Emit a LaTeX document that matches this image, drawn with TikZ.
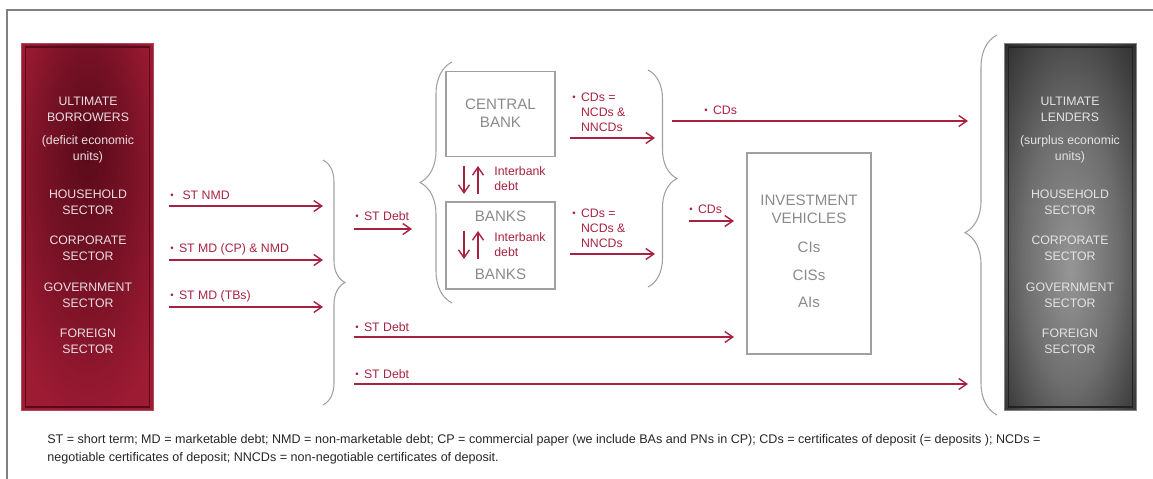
\documentclass[tikz,border=0pt]{standalone}
\usepackage{fontspec}
\setmainfont{Liberation Sans}
\usetikzlibrary{positioning, arrows.meta, decorations.pathreplacing}

\definecolor{borred}{RGB}{158,27,52}
\definecolor{bordark}{RGB}{88,10,26}
\definecolor{lenedge}{RGB}{48,48,48}
\definecolor{lenmid}{RGB}{150,150,150}
\definecolor{flowred}{RGB}{168,34,64}
\definecolor{boxgray}{RGB}{138,138,138}
\definecolor{linegray}{RGB}{160,160,160}
\definecolor{bortext}{RGB}{236,222,225}
\definecolor{lentext}{RGB}{228,228,228}

\pgfdeclareradialshading{borshade}{\pgfpoint{0bp}{12bp}}{color(0bp)=(bordark); color(16bp)=(bordark!55!borred); color(32bp)=(borred); color(50bp)=(borred)}
\pgfdeclareradialshading{lenshade}{\pgfpoint{0bp}{-6bp}}{color(0bp)=(lenmid); color(18bp)=(lenmid!60!lenedge); color(36bp)=(lenedge); color(50bp)=(lenedge)}

\newcommand{\flowbul}{{\fontsize{5.5}{5.5}\selectfont\raisebox{0.2ex}{\textbullet}}}

\begin{document}
\begin{tikzpicture}[
  x=0.02cm, y=-0.02cm,
  font=\fontsize{7}{8.5}\selectfont,
  sector/.style={rectangle, minimum width=2.64cm, minimum height=7.36cm, inner sep=0pt},
  secttext/.style={align=center, inner sep=0pt, font=\fontsize{7}{9.1}\selectfont},
  midbox/.style={rectangle, draw=linegray, line width=0.7pt, inner sep=0pt},
  midtext/.style={align=center, inner sep=0pt, text=boxgray, font=\fontsize{8.6}{10.3}\selectfont},
  flow/.style={draw=flowred, line width=0.8pt, -{Straight Barb[length=1.6mm, width=2.2mm]}},
  lbl/.style={anchor=west, align=left, inner sep=0pt, text=flowred},
  brc/.style={draw=linegray, line width=0.6pt, decorate}
]
  \useasboundingbox (0,0) rectangle (1153,479);
  \draw[gray, line width=0.6pt] (1153,10) -- (7,10) -- (7,479);

  % ultimate borrowers / lenders
  \node[sector, shading=borshade, draw=borred!80!white, line width=0.6pt] (bor) at (87.5,227) {};
  \draw[bordark, line width=0.6pt] ([shift={(0.09cm,-0.09cm)}]bor.north west) rectangle ([shift={(-0.09cm,0.09cm)}]bor.south east);
  \node[sector, shading=lenshade, draw=lenedge!60!white, line width=0.6pt] (len) at (1070.5,227) {};
  \draw[lenedge!70!black, line width=0.6pt] ([shift={(0.09cm,-0.09cm)}]len.north west) rectangle ([shift={(-0.09cm,0.09cm)}]len.south east);

  \foreach \txt/\yy [count=\i] in {{ULTIMATE\\BORROWERS}/109, {(deficit economic\\units)}/149, {HOUSEHOLD\\SECTOR}/202.5, {CORPORATE\\SECTOR}/248.5, {GOVERNMENT\\SECTOR}/295, {FOREIGN\\SECTOR}/341}
    \node[secttext, text=bortext] (bort\i) at (88,\yy) {\txt};
  \foreach \txt/\yy [count=\i] in {{ULTIMATE\\LENDERS}/109, {(surplus economic\\units)}/149, {HOUSEHOLD\\SECTOR}/202.5, {CORPORATE\\SECTOR}/248.5, {GOVERNMENT\\SECTOR}/295, {FOREIGN\\SECTOR}/341}
    \node[secttext, text=lentext] (lent\i) at (1070,\yy) {\txt};

  % banks and investment vehicles
  \node[midbox, minimum width=2.18cm, minimum height=1.7cm] (cb) at (500.5,114) {};
  \node[midtext] (cbt) at (500.5,113) {CENTRAL\\BANK};
  \node[midbox, minimum width=2.18cm, minimum height=1.74cm] (bk) at (500.5,245.5) {};
  \node[midtext] (bk1) at (500.5,216) {BANKS};
  \node[midtext] (bk2) at (500.5,274) {BANKS};
  \node[midbox, minimum width=2.48cm, minimum height=4.02cm] (iv) at (809,253.5) {};
  \node[midtext] (ivt) at (809,209) {INVESTMENT\\VEHICLES};
  \node[midtext] (iv1) at (809,247) {CIs};
  \node[midtext] (iv2) at (809,275) {CISs};
  \node[midtext] (iv3) at (809,302) {AIs};

  % braces
  \draw[brc, decoration={brace, amplitude=0.44cm}] (323,160) -- (323,405);
  \draw[brc, decoration={brace, amplitude=0.64cm}] (452,303) -- (452,62);
  \draw[brc, decoration={brace, amplitude=0.58cm}] (648,70) -- (648,287);
  \draw[brc, decoration={brace, amplitude=0.64cm, aspect=0.48}] (997,415) -- (997,35);

  % flows
  \foreach \nm/\xa/\xb/\yy in {nmd/169/323/206, cp/169/323/260, tb/169/323/307, sd/354/412/229, cdu/570/655/138, cdl/570/655/254, cdt/672/968/121, cdv/689/734/221, sdv/354/734/337, sdl/354/968/384} {
    \coordinate (\nm-a) at (\xa,\yy);
    \coordinate (\nm-b) at (\xb,\yy);
  }
  \foreach \nm in {nmd, cp, tb, sd, cdu, cdl, cdt, cdv, sdv, sdl}
    \draw[flow] (\nm-a) -- (\nm-b);

  \node[lbl] (nmd-l) at (170,195) {\flowbul\hspace{5pt}ST NMD};
  \node[lbl] (cp-l) at (170,249) {\flowbul\hspace{3pt}ST MD (CP) \& NMD};
  \node[lbl] (tb-l) at (170,296) {\flowbul\hspace{3pt}ST MD (TBs)};
  \node[lbl] (sd-l) at (355,216) {\flowbul\hspace{3pt}ST Debt};
  \node[lbl] (cdu-l) at (572,112) {\flowbul\hspace{3pt}CDs =\\\phantom{\flowbul\hspace{3pt}}NCDs \&\\\phantom{\flowbul\hspace{3pt}}NNCDs};
  \node[lbl] (cdl-l) at (572,228) {\flowbul\hspace{3pt}CDs =\\\phantom{\flowbul\hspace{3pt}}NCDs \&\\\phantom{\flowbul\hspace{3pt}}NNCDs};
  \node[lbl] (cdt-l) at (704,110) {\flowbul\hspace{3pt}CDs};
  \node[lbl] (cdv-l) at (689,209) {\flowbul\hspace{3pt}CDs};
  \node[lbl] (sdv-l) at (355,327) {\flowbul\hspace{3pt}ST Debt};
  \node[lbl] (sdl-l) at (355,374) {\flowbul\hspace{3pt}ST Debt};

  % interbank debt
  \coordinate (iba-t) at (464,166); \coordinate (iba-b) at (464,194);
  \coordinate (ibb-t) at (478,166); \coordinate (ibb-b) at (478,194);
  \coordinate (ibc-t) at (464,231); \coordinate (ibc-b) at (464,259);
  \coordinate (ibd-t) at (478,231); \coordinate (ibd-b) at (478,259);
  \draw[flow] (iba-t) -- (iba-b);
  \draw[flow] (ibb-b) -- (ibb-t);
  \draw[flow] (ibc-t) -- (ibc-b);
  \draw[flow] (ibd-b) -- (ibd-t);
  \node[lbl] (ib1) at (494,178.5) {Interbank\\debt};
  \node[lbl] (ib2) at (494,244.5) {Interbank\\debt};

  % legend
  \node[anchor=north west, align=left, inner sep=0pt, text=black!85, font=\fontsize{7.15}{10.2}\selectfont] (note) at (47,434.5) {ST = short term; MD = marketable debt; NMD = non-marketable debt; CP = commercial paper (we include BAs and PNs in CP); CDs = certificates of deposit (= deposits ); NCDs =\\negotiable certificates of deposit; NNCDs = non-negotiable certificates of deposit.};
\end{tikzpicture}
\end{document}
